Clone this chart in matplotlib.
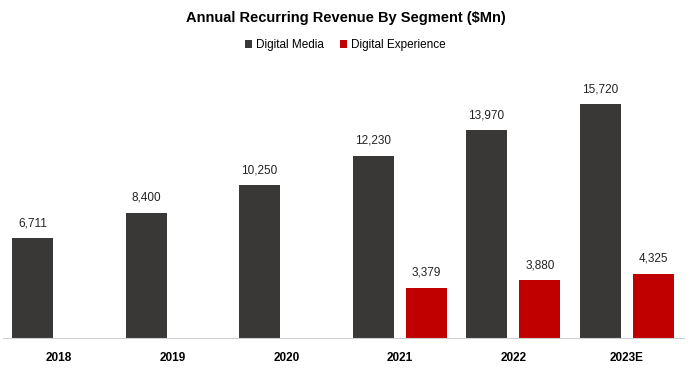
import matplotlib
matplotlib.use("Agg")
import matplotlib.pyplot as plt
import numpy as np

years = ["2018", "2019", "2020", "2021", "2022", "2023E"]
digital_media = [6711, 8400, 10250, 12230, 13970, 15720]
digital_experience = [None, None, None, 3379, 3880, 4325]

dm_color = "#3a3836"
de_color = "#c00000"

plt.rcParams['font.family'] = ['Liberation Sans', 'DejaVu Sans']

fig = plt.figure(figsize=(6.91, 3.70), dpi=100)
ax = fig.add_axes([2.5 / 691, 32 / 370, 681 / 691, 268 / 370])

x = np.arange(len(years))
offset = 0.235
width = 0.36

ax.bar(x - offset, digital_media, width, color=dm_color, label="Digital Media")
de_x = [xi + offset for xi, v in zip(x, digital_experience) if v is not None]
de_v = [v for v in digital_experience if v is not None]
ax.bar(de_x, de_v, width, color=de_color, label="Digital Experience")

for xi, v in zip(x, digital_media):
    ax.text(xi - offset, v + 600, f"{v:,}", ha="center", va="bottom", fontsize=8.5, color="#222222")
for xi, v in zip(de_x, de_v):
    ax.text(xi, v + 600, f"{v:,}", ha="center", va="bottom", fontsize=8.5, color="#222222")

ax.set_xlim(-0.5, len(years) - 0.5)
ax.set_ylim(0, 18000)
ax.set_xticks(x)
ax.set_xticklabels(years, fontweight="bold", fontsize=8.5)
ax.tick_params(axis="x", length=0, pad=10)
ax.set_yticks([])
for s in ["top", "right", "left"]:
    ax.spines[s].set_visible(False)
ax.spines["bottom"].set_color("#d0d0d0")

fig.text(0.5, 1 - 18 / 370, "Annual Recurring Revenue By Segment ($Mn)", ha="center", va="center",
         fontsize=10.5, fontweight="bold")
fig.legend(loc="center", bbox_to_anchor=(0.5, 1 - 45 / 370), ncol=2, frameon=False, fontsize=8.5,
           handlelength=0.6, handleheight=0.6, columnspacing=1.4, handletextpad=0.3)

fig.savefig("out.png", dpi=100)
